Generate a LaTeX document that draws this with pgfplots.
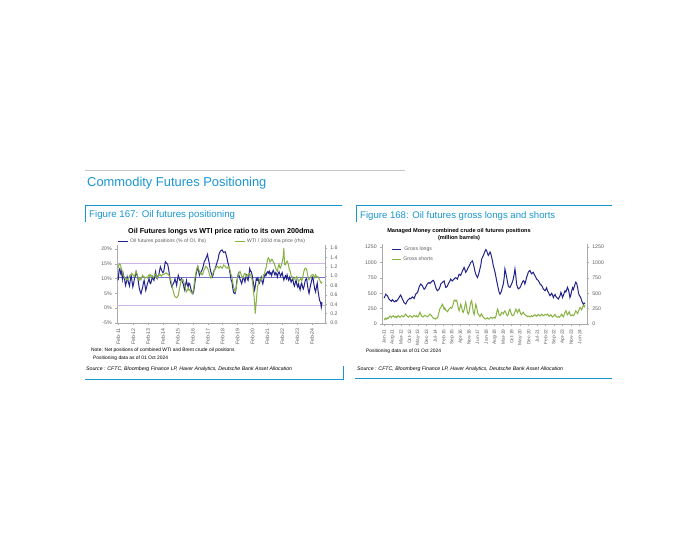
\documentclass[border=0pt]{standalone}
\usepackage{pgfplots}
\pgfplotsset{compat=1.18}
\usepackage{fontspec}
\setmainfont{Liberation Sans}
\definecolor{dbblue}{RGB}{25,150,210}
\definecolor{navy}{RGB}{35,35,140}
\definecolor{oilgreen}{RGB}{135,178,65}
\definecolor{lpurp}{RGB}{205,180,235}
\definecolor{mpurp}{RGB}{115,115,210}
\definecolor{tickgray}{RGB}{95,95,95}
\definecolor{axgray}{RGB}{170,170,170}
\newcommand{\fs}[1]{\fontsize{#1}{#1}\selectfont}
\begin{document}
\begin{tikzpicture}
\useasboundingbox (0pt,0pt) rectangle (700pt,550pt);
\fill[white] (0pt,0pt) rectangle (700pt,550pt);
% page furniture
\draw[gray!45, line width=0.8pt] (85pt,380pt) -- (405pt,380pt);
\node[anchor=west, text=dbblue, inner sep=0pt, font=\fs{12.9}] at (87pt,367pt) {Commodity Futures Positioning};
\draw[dbblue, line width=0.7pt] (85pt,328pt) -- (85pt,345pt) -- (342pt,345pt);
\node[anchor=west, text=dbblue, inner sep=0pt, font=\fs{9.7}] at (89pt,335pt) {Figure 167: Oil futures positioning};
\draw[dbblue, line width=0.7pt] (356pt,328pt) -- (356pt,345pt) -- (612pt,345pt);
\node[anchor=west, text=dbblue, inner sep=0pt, font=\fs{9.6}] at (360pt,334pt) {Figure 168: Oil futures gross longs and shorts};
% left chart texts
\node[inner sep=0pt, font=\bfseries\fs{7.2}] at (221pt,318pt) {Oil Futures longs vs WTI price ratio to its own 200dma};
\node[anchor=west, inner sep=0pt, font=\fs{4.9}] at (91pt,200pt) {Note: Net positions of combined WTI and Brent crude oil positions};
\node[anchor=west, inner sep=0pt, font=\fs{4.9}] at (93pt,192pt) {Positioning data as of 01 Oct 2024};
\node[anchor=west, inner sep=0pt, font=\itshape\fs{5.2}] at (86pt,181pt) {Source : CFTC, Bloomberg Finance LP, Haver Analytics, Deutsche Bank Asset Allocation};
\draw[dbblue, line width=0.7pt] (85pt,171pt) -- (343pt,171pt) -- (343pt,184pt);
% right chart texts
\node[inner sep=0pt, font=\bfseries\fs{5.6}] at (459pt,319pt) {Managed Money combined crude oil futures positions};
\node[inner sep=0pt, font=\bfseries\fs{5.6}] at (459pt,312pt) {(million barrels)};
\node[anchor=west, inner sep=0pt, font=\fs{4.9}] at (366pt,199pt) {Positioning data as of 01 Oct 2024};
\node[anchor=west, inner sep=0pt, font=\itshape\fs{5.2}] at (357pt,181pt) {Source : CFTC, Bloomberg Finance LP, Haver Analytics, Deutsche Bank Asset Allocation};
\draw[dbblue, line width=0.7pt] (355pt,172pt) -- (612pt,172pt);

\pgfplotsset{
  dbstyle/.style={
    scale only axis,
    tick align=outside,
    major tick length=1.8pt,
    every tick/.style={axgray, line width=0.4pt},
    axis line style={axgray, line width=0.5pt},
    tick label style={text=tickgray},
    /pgf/number format/assume math mode=true,
    /pgf/number format/1000 sep={},
    clip=false,
  }
}
% ---------- LEFT CHART, lhs ----------
\begin{axis}[dbstyle,
  at={(117pt,227pt)}, anchor=south west, width=208pt, height=78pt,
  xmin=2011.0, xmax=2024.95, ymin=-5, ymax=21.35,
  axis x line*=bottom, axis y line*=left,
  ytick={-5,0,5,10,15,20},
  yticklabels={-5\%,0\%,5\%,10\%,15\%,20\%},
  yticklabel style={font=\fs{5.2}},
  xtick={2011.083,2012.083,2013.083,2014.083,2015.083,2016.083,2017.083,2018.083,2019.083,2020.083,2021.083,2022.083,2023.083,2024.083},
  xticklabels={Feb-11,Feb-12,Feb-13,Feb-14,Feb-15,Feb-16,Feb-17,Feb-18,Feb-19,Feb-20,Feb-21,Feb-22,Feb-23,Feb-24},
  xticklabel style={font=\fs{5.2}, rotate=90, anchor=east},
  legend columns=2,
  legend style={at={(0.0,1.0)}, anchor=south west, yshift=-1pt, xshift=0pt, draw=none, fill=none, font=\fs{5.1}, text=tickgray,
    /tikz/every even column/.append style={column sep=26pt}, inner sep=0pt},
  legend image code/.code={\draw[#1, line width=1pt] (0pt,0pt) -- (10pt,0pt);},
]
\addplot[lpurp, line width=0.6pt, forget plot] coordinates {(2011.0,15.0) (2024.95,15.0)};
\addplot[mpurp, line width=0.6pt, forget plot] coordinates {(2011.0,10.5) (2024.95,10.5)};
\addplot[lpurp, line width=0.6pt, forget plot] coordinates {(2011.0,1.0) (2024.95,1.0)};
\addplot[navy, line width=1pt] coordinates {
(2011.08,9.4) (2011.14,13.0) (2011.19,13.4) (2011.25,11.7) (2011.30,12.5) (2011.36,9.8) (2011.41,11.7) (2011.47,10.2) (2011.52,9.4) (2011.57,7.7)
(2011.63,8.8) (2011.68,10.6) (2011.73,9.5) (2011.79,8.3) (2011.84,7.5) (2011.90,9.8) (2011.95,11.1) (2012.01,9.0) (2012.06,7.2) (2012.12,8.5)
(2012.17,10.0) (2012.23,11.0) (2012.28,12.3) (2012.34,11.2) (2012.39,10.5) (2012.45,8.2) (2012.50,6.6) (2012.56,5.5) (2012.61,4.9) (2012.67,6.2)
(2012.72,7.0) (2012.77,8.5) (2012.82,9.4) (2012.88,7.6) (2012.93,6.0) (2012.99,7.2) (2013.04,8.3) (2013.10,9.2) (2013.15,10.0) (2013.21,8.5)
(2013.26,8.3) (2013.32,9.5) (2013.37,10.6) (2013.43,9.8) (2013.48,9.4) (2013.54,11.0) (2013.59,12.3) (2013.64,10.5) (2013.69,10.0) (2013.75,11.0)
(2013.80,11.2) (2013.86,12.8) (2013.91,14.0) (2013.97,13.2) (2014.02,12.5) (2014.08,12.0) (2014.13,12.3) (2014.19,14.0) (2014.24,15.7) (2014.30,15.3)
(2014.35,15.1) (2014.40,14.8) (2014.46,13.2) (2014.51,11.5) (2014.57,9.4) (2014.62,8.2) (2014.68,7.2) (2014.73,7.8) (2014.78,8.3) (2014.84,9.0)
(2014.89,10.0) (2014.95,8.8) (2015.00,7.7) (2015.05,9.5) (2015.11,11.1) (2015.16,10.2) (2015.22,9.4) (2015.28,9.6) (2015.33,10.0) (2015.38,8.8)
(2015.44,8.3) (2015.49,7.0) (2015.55,6.0) (2015.60,8.0) (2015.66,9.4) (2015.71,8.0) (2015.77,7.2) (2015.82,8.5) (2015.87,8.3) (2015.93,7.0)
(2015.98,6.0) (2016.04,5.5) (2016.09,4.9) (2016.15,5.8) (2016.20,7.7) (2016.26,10.0) (2016.31,11.7) (2016.36,12.8) (2016.42,14.0) (2016.47,12.5)
(2016.53,11.1) (2016.58,11.7) (2016.64,12.3) (2016.69,12.8) (2016.74,13.4) (2016.80,14.5) (2016.85,15.7) (2016.91,16.2) (2016.96,16.8) (2017.02,17.5)
(2017.07,18.2) (2017.13,16.5) (2017.18,15.5) (2017.24,13.5) (2017.29,12.3) (2017.35,11.5) (2017.40,10.6) (2017.46,11.5) (2017.51,12.8) (2017.56,13.0)
(2017.62,14.0) (2017.67,14.8) (2017.72,15.7) (2017.78,16.5) (2017.83,18.0) (2017.89,18.8) (2017.94,19.3) (2017.99,19.5) (2018.05,19.7) (2018.10,19.2)
(2018.16,18.8) (2018.21,19.0) (2018.27,19.0) (2018.32,18.0) (2018.38,16.8) (2018.43,15.5) (2018.49,14.5) (2018.54,13.0) (2018.60,11.2) (2018.65,9.5)
(2018.71,8.9) (2018.76,7.0) (2018.81,5.5) (2018.87,5.0) (2018.92,4.9) (2018.98,6.5) (2019.03,8.9) (2019.09,10.5) (2019.14,11.7) (2019.20,10.8)
(2019.25,9.8) (2019.31,9.0) (2019.36,8.3) (2019.42,9.5) (2019.47,10.6) (2019.53,9.8) (2019.58,8.9) (2019.63,10.2) (2019.69,11.1) (2019.74,10.0)
(2019.79,9.4) (2019.85,11.0) (2019.90,13.4) (2019.96,12.5) (2020.01,12.3) (2020.07,11.0) (2020.12,9.4) (2020.18,7.5) (2020.23,6.2) (2020.29,8.0)
(2020.34,10.0) (2020.40,9.5) (2020.45,10.2) (2020.50,9.0) (2020.56,8.5) (2020.61,9.6) (2020.67,10.5) (2020.72,9.2) (2020.78,8.2) (2020.83,9.5)
(2020.88,10.8) (2020.94,11.5) (2020.99,11.0) (2021.05,12.0) (2021.10,12.3) (2021.15,11.8) (2021.21,12.5) (2021.26,11.5) (2021.32,12.0) (2021.37,11.0)
(2021.43,12.2) (2021.48,12.8) (2021.54,12.0) (2021.59,11.2) (2021.65,12.0) (2021.70,11.5) (2021.76,10.5) (2021.81,11.8) (2021.87,12.3) (2021.92,11.5)
(2021.97,10.8) (2022.03,11.5) (2022.08,12.0) (2022.14,10.5) (2022.19,9.5) (2022.25,10.5) (2022.30,11.0) (2022.36,10.0) (2022.41,11.2) (2022.47,10.0)
(2022.52,9.4) (2022.58,10.5) (2022.63,9.8) (2022.68,8.8) (2022.74,9.5) (2022.79,10.2) (2022.84,8.3) (2022.90,7.5) (2022.95,8.5) (2023.01,9.5)
(2023.06,8.0) (2023.12,7.2) (2023.17,8.3) (2023.23,7.0) (2023.28,6.2) (2023.34,8.0) (2023.39,8.5) (2023.45,7.0) (2023.50,6.5) (2023.55,7.5)
(2023.61,9.0) (2023.66,9.8) (2023.72,10.0) (2023.77,8.0) (2023.83,6.0) (2023.88,5.0) (2023.93,6.5) (2023.99,8.0) (2024.04,9.0) (2024.10,10.5)
(2024.15,10.0) (2024.21,8.0) (2024.26,6.5) (2024.32,5.5) (2024.37,7.0) (2024.43,8.5) (2024.48,6.0) (2024.54,4.0) (2024.59,2.6) (2024.65,2.0)
(2024.70,0.3) (2024.75,2.0)
};
\addlegendentry{Oil futures positions (\% of OI, lhs)}
\addlegendimage{oilgreen}
\addlegendentry{WTI / 200d ma price (rhs)}
\end{axis}
% ---------- LEFT CHART, rhs ----------
\begin{axis}[dbstyle,
  at={(117pt,227pt)}, anchor=south west, width=208pt, height=78pt,
  xmin=2011.0, xmax=2024.95, ymin=0, ymax=1.664,
  axis x line=none, axis y line*=right,
  ytick={0,0.2,...,1.6},
  yticklabel style={font=\fs{5.2}, /pgf/number format/.cd, fixed, fixed zerofill, precision=1},
]
\addplot[oilgreen, line width=1pt] coordinates {
(2011.08,1.17) (2011.14,1.26) (2011.19,1.26) (2011.25,1.22) (2011.30,1.15) (2011.36,1.10) (2011.41,1.02) (2011.47,0.99) (2011.52,0.96) (2011.57,0.95)
(2011.63,0.92) (2011.68,0.94) (2011.73,0.92) (2011.79,0.97) (2011.84,1.00) (2011.90,1.03) (2011.95,1.03) (2012.01,1.05) (2012.06,1.03) (2012.12,1.00)
(2012.17,0.99) (2012.23,1.06) (2012.28,1.10) (2012.34,1.05) (2012.39,0.99) (2012.45,0.95) (2012.50,0.92) (2012.56,0.96) (2012.61,0.92) (2012.67,0.98)
(2012.72,1.02) (2012.77,0.99) (2012.82,0.99) (2012.88,0.97) (2012.93,0.96) (2012.99,0.98) (2013.04,0.96) (2013.10,1.00) (2013.15,1.03) (2013.21,0.99)
(2013.26,1.03) (2013.32,1.00) (2013.37,0.99) (2013.43,0.97) (2013.48,0.99) (2013.54,1.05) (2013.59,1.03) (2013.64,0.98) (2013.69,0.96) (2013.75,0.99)
(2013.80,1.03) (2013.86,1.02) (2013.91,1.03) (2013.97,1.00) (2014.02,1.02) (2014.08,1.04) (2014.13,1.04) (2014.19,1.05) (2014.24,1.06) (2014.30,1.07)
(2014.35,1.06) (2014.40,1.04) (2014.46,1.03) (2014.51,1.01) (2014.57,0.96) (2014.62,0.90) (2014.68,0.81) (2014.73,0.74) (2014.78,0.67) (2014.84,0.60)
(2014.89,0.56) (2014.95,0.55) (2015.00,0.54) (2015.05,0.56) (2015.11,0.59) (2015.16,0.68) (2015.22,0.78) (2015.28,0.88) (2015.33,0.92) (2015.38,0.93)
(2015.44,0.92) (2015.49,0.86) (2015.55,0.80) (2015.60,0.72) (2015.66,0.67) (2015.71,0.70) (2015.77,0.74) (2015.82,0.70) (2015.87,0.71) (2015.93,0.68)
(2015.98,0.64) (2016.04,0.63) (2016.09,0.66) (2016.15,0.75) (2016.20,0.92) (2016.26,1.02) (2016.31,1.10) (2016.36,1.17) (2016.42,1.21) (2016.47,1.15)
(2016.53,1.10) (2016.58,1.06) (2016.64,1.07) (2016.69,1.03) (2016.74,1.03) (2016.80,1.10) (2016.85,1.14) (2016.91,1.18) (2016.96,1.21) (2017.02,1.19)
(2017.07,1.17) (2017.13,1.12) (2017.18,1.06) (2017.24,1.00) (2017.29,0.96) (2017.35,0.98) (2017.40,1.03) (2017.46,1.08) (2017.51,1.10) (2017.56,1.14)
(2017.62,1.17) (2017.67,1.19) (2017.72,1.21) (2017.78,1.20) (2017.83,1.17) (2017.89,1.19) (2017.94,1.21) (2017.99,1.19) (2018.05,1.17) (2018.10,1.20)
(2018.16,1.24) (2018.21,1.22) (2018.27,1.21) (2018.32,1.18) (2018.38,1.17) (2018.43,1.19) (2018.49,1.21) (2018.54,1.18) (2018.60,1.10) (2018.65,1.03)
(2018.71,0.99) (2018.76,0.88) (2018.81,0.78) (2018.87,0.72) (2018.92,0.67) (2018.98,0.73) (2019.03,0.82) (2019.09,0.97) (2019.14,1.03) (2019.20,1.08)
(2019.25,1.10) (2019.31,1.05) (2019.36,1.00) (2019.42,0.98) (2019.47,0.97) (2019.53,1.05) (2019.58,1.06) (2019.63,1.03) (2019.69,0.99) (2019.74,1.02)
(2019.79,1.03) (2019.85,1.06) (2019.90,1.06) (2019.96,1.02) (2020.01,0.99) (2020.07,0.90) (2020.12,0.78) (2020.18,0.60) (2020.23,0.42) (2020.27,0.20)
(2020.31,0.35) (2020.34,0.45) (2020.40,0.70) (2020.45,0.80) (2020.50,0.85) (2020.56,0.92) (2020.61,0.95) (2020.67,0.92) (2020.72,0.96) (2020.78,0.97)
(2020.83,1.03) (2020.88,1.03) (2020.94,1.12) (2020.99,1.17) (2021.05,1.27) (2021.10,1.35) (2021.15,1.39) (2021.21,1.36) (2021.26,1.30) (2021.32,1.32)
(2021.37,1.36) (2021.43,1.35) (2021.48,1.30) (2021.54,1.28) (2021.59,1.22) (2021.65,1.17) (2021.70,1.12) (2021.76,1.10) (2021.81,1.20) (2021.87,1.25)
(2021.92,1.18) (2021.97,1.17) (2022.03,1.25) (2022.08,1.30) (2022.14,1.40) (2022.19,1.60) (2022.21,1.45) (2022.24,1.25) (2022.30,1.24) (2022.36,1.30)
(2022.41,1.32) (2022.47,1.28) (2022.52,1.20) (2022.58,1.12) (2022.63,1.10) (2022.68,1.00) (2022.74,0.98) (2022.79,0.95) (2022.84,0.92) (2022.90,0.94)
(2022.95,0.96) (2023.01,0.98) (2023.06,0.99) (2023.12,0.94) (2023.17,0.88) (2023.23,0.92) (2023.28,0.92) (2023.34,0.96) (2023.39,0.90) (2023.45,0.95)
(2023.50,1.06) (2023.55,1.12) (2023.61,1.17) (2023.66,1.17) (2023.72,1.14) (2023.77,1.05) (2023.83,0.96) (2023.88,0.92) (2023.93,0.95) (2023.99,0.99)
(2024.04,1.02) (2024.10,1.03) (2024.15,1.03) (2024.21,0.99) (2024.26,0.96) (2024.32,1.03) (2024.37,1.00) (2024.43,0.98) (2024.48,0.99) (2024.54,0.95)
(2024.59,0.92) (2024.65,0.88) (2024.70,0.85) (2024.75,0.88)
};
\end{axis}
% ---------- RIGHT CHART ----------
\begin{axis}[dbstyle,
  at={(382pt,226pt)}, anchor=south west, width=205pt, height=80pt,
  xmin=2010.86, xmax=2024.92, ymin=0, ymax=1300,
  axis x line*=bottom, axis y line*=left,
  ytick={0,250,500,750,1000,1250},
  yticklabel style={font=\fs{5.2}},
  xtick={2011.0,2011.583,2012.167,2012.75,2013.333,2013.917,2014.5,2015.083,2015.667,2016.25,2016.833,2017.417,2018.0,2018.583,2019.167,2019.75,2020.333,2020.917,2021.5,2022.083,2022.667,2023.25,2023.833,2024.417},
  xticklabels={Jan-11,Aug-11,Mar-12,Oct-12,May-13,Dec-13,Jul-14,Feb-15,Sep-15,Apr-16,Nov-16,Jun-17,Jan-18,Aug-18,Mar-19,Oct-19,May-20,Dec-20,Jul-21,Feb-22,Sep-22,Apr-23,Nov-23,Jun-24},
  xticklabel style={font=\fs{4.8}, rotate=90, anchor=east},
  legend style={at={(0.045,0.995)}, anchor=north west, draw=none, fill=none, font=\fs{5.2}, text=tickgray, row sep=1pt, inner sep=0pt},
  legend image code/.code={\draw[#1, line width=1pt] (0pt,0pt) -- (9pt,0pt);},
]
\addplot[navy, line width=1pt] coordinates {
(2011.00,420) (2011.06,450) (2011.11,485) (2011.17,470) (2011.23,460) (2011.29,430) (2011.34,405) (2011.40,390) (2011.46,380) (2011.51,370)
(2011.57,395) (2011.63,380) (2011.69,365) (2011.74,360) (2011.80,380) (2011.86,370) (2011.91,390) (2011.97,405) (2012.03,430) (2012.09,455)
(2012.14,470) (2012.20,440) (2012.26,405) (2012.31,380) (2012.37,350) (2012.43,335) (2012.49,325) (2012.54,350) (2012.60,380) (2012.66,395)
(2012.72,405) (2012.77,420) (2012.83,410) (2012.89,425) (2012.95,440) (2013.00,430) (2013.06,415) (2013.12,450) (2013.17,485) (2013.23,500)
(2013.29,510) (2013.35,550) (2013.40,595) (2013.46,630) (2013.52,650) (2013.57,635) (2013.63,620) (2013.69,590) (2013.75,565) (2013.80,575)
(2013.86,600) (2013.92,630) (2013.97,650) (2014.03,665) (2014.09,675) (2014.15,660) (2014.20,670) (2014.26,690) (2014.32,700) (2014.37,710)
(2014.43,690) (2014.49,640) (2014.55,595) (2014.60,560) (2014.66,540) (2014.72,555) (2014.78,570) (2014.83,600) (2014.89,650) (2014.95,665)
(2015.00,675) (2015.06,690) (2015.12,700) (2015.17,650) (2015.23,595) (2015.29,600) (2015.35,620) (2015.40,650) (2015.46,675) (2015.52,700)
(2015.57,730) (2015.63,710) (2015.69,700) (2015.75,720) (2015.80,730) (2015.86,745) (2015.92,755) (2015.98,740) (2016.03,730) (2016.09,770)
(2016.15,810) (2016.20,800) (2016.26,790) (2016.32,830) (2016.38,865) (2016.43,890) (2016.49,920) (2016.55,880) (2016.60,840) (2016.66,860)
(2016.72,890) (2016.78,920) (2016.84,945) (2016.89,970) (2016.95,1000) (2017.01,1015) (2017.06,1025) (2017.12,980) (2017.18,920) (2017.23,860)
(2017.29,810) (2017.35,780) (2017.41,755) (2017.46,790) (2017.52,840) (2017.58,900) (2017.64,960) (2017.69,1050) (2017.75,1085) (2017.81,1110)
(2017.87,1150) (2017.92,1180) (2017.98,1210) (2018.04,1190) (2018.09,1150) (2018.15,1115) (2018.21,1140) (2018.27,1170) (2018.32,1140) (2018.38,1085)
(2018.44,1020) (2018.49,950) (2018.55,900) (2018.61,840) (2018.67,770) (2018.72,705) (2018.78,640) (2018.84,570) (2018.89,520) (2018.95,485)
(2019.01,510) (2019.06,540) (2019.12,600) (2019.18,650) (2019.24,750) (2019.29,895) (2019.35,830) (2019.41,760) (2019.46,690) (2019.52,620)
(2019.58,600) (2019.64,595) (2019.69,620) (2019.75,650) (2019.81,690) (2019.86,730) (2019.92,800) (2019.98,895) (2020.04,780) (2020.09,650)
(2020.15,600) (2020.21,570) (2020.26,580) (2020.32,590) (2020.38,620) (2020.43,650) (2020.49,680) (2020.55,705) (2020.61,690) (2020.66,650)
(2020.72,700) (2020.78,760) (2020.84,800) (2020.89,840) (2020.95,860) (2021.01,870) (2021.06,840) (2021.12,815) (2021.18,830) (2021.24,840)
(2021.29,810) (2021.35,785) (2021.41,760) (2021.46,730) (2021.52,720) (2021.58,705) (2021.64,680) (2021.69,650) (2021.75,640) (2021.81,625)
(2021.87,600) (2021.92,570) (2021.98,555) (2022.04,540) (2022.09,560) (2022.15,590) (2022.21,540) (2022.27,515) (2022.32,490) (2022.38,460)
(2022.44,480) (2022.50,500) (2022.55,470) (2022.61,430) (2022.67,460) (2022.73,480) (2022.78,450) (2022.84,430) (2022.90,420) (2022.95,405)
(2023.01,430) (2023.07,460) (2023.13,515) (2023.18,480) (2023.24,430) (2023.30,470) (2023.35,500) (2023.41,540) (2023.47,520) (2023.53,560)
(2023.58,595) (2023.64,560) (2023.70,500) (2023.75,430) (2023.81,470) (2023.87,540) (2023.93,590) (2023.98,560) (2024.04,600) (2024.10,650)
(2024.15,680) (2024.21,660) (2024.27,600) (2024.33,515) (2024.38,470) (2024.44,450) (2024.50,420) (2024.55,380) (2024.61,350) (2024.67,320)
(2024.73,340) (2024.78,330)
};
\addlegendentry{Gross longs}
\addplot[oilgreen, line width=1pt] coordinates {
(2011.00,85) (2011.06,70) (2011.11,95) (2011.17,80) (2011.23,100) (2011.29,90) (2011.34,110) (2011.40,130) (2011.46,120) (2011.51,105)
(2011.57,125) (2011.63,135) (2011.69,115) (2011.74,110) (2011.80,125) (2011.86,105) (2011.91,120) (2011.97,135) (2012.03,125) (2012.09,110)
(2012.14,120) (2012.20,135) (2012.26,130) (2012.31,115) (2012.37,125) (2012.43,145) (2012.49,160) (2012.54,140) (2012.60,125) (2012.66,110)
(2012.72,120) (2012.77,135) (2012.83,130) (2012.89,115) (2012.95,110) (2013.00,125) (2013.06,140) (2013.12,130) (2013.17,120) (2013.23,135)
(2013.29,115) (2013.35,125) (2013.40,150) (2013.46,190) (2013.52,160) (2013.57,130) (2013.63,120) (2013.69,115) (2013.75,130) (2013.80,140)
(2013.86,135) (2013.92,125) (2013.97,115) (2014.03,130) (2014.09,145) (2014.15,160) (2014.20,150) (2014.26,135) (2014.32,110) (2014.37,100)
(2014.43,85) (2014.49,90) (2014.55,80) (2014.60,95) (2014.66,100) (2014.72,140) (2014.78,200) (2014.83,250) (2014.89,270) (2014.95,300)
(2015.00,320) (2015.06,290) (2015.12,240) (2015.17,260) (2015.23,225) (2015.29,215) (2015.35,200) (2015.40,220) (2015.46,245) (2015.52,260)
(2015.57,270) (2015.63,255) (2015.69,280) (2015.75,330) (2015.80,380) (2015.86,390) (2015.92,370) (2015.98,385) (2016.03,340) (2016.09,260)
(2016.15,215) (2016.20,260) (2016.26,320) (2016.32,280) (2016.38,200) (2016.43,190) (2016.49,230) (2016.55,300) (2016.60,350) (2016.66,280)
(2016.72,190) (2016.78,160) (2016.84,200) (2016.89,280) (2016.95,350) (2017.01,380) (2017.06,300) (2017.12,190) (2017.18,155) (2017.23,230)
(2017.29,320) (2017.35,280) (2017.41,190) (2017.46,160) (2017.52,140) (2017.58,120) (2017.64,150) (2017.69,165) (2017.75,130) (2017.81,110)
(2017.87,95) (2017.92,85) (2017.98,80) (2018.04,90) (2018.09,100) (2018.15,85) (2018.21,80) (2018.27,95) (2018.32,110) (2018.38,100)
(2018.44,90) (2018.49,105) (2018.55,110) (2018.61,95) (2018.67,120) (2018.72,180) (2018.78,240) (2018.84,210) (2018.89,150) (2018.95,135)
(2019.01,155) (2019.06,190) (2019.12,180) (2019.18,165) (2019.24,200) (2019.29,215) (2019.35,185) (2019.41,150) (2019.46,135) (2019.52,160)
(2019.58,220) (2019.64,240) (2019.69,190) (2019.75,150) (2019.81,135) (2019.86,140) (2019.92,160) (2019.98,200) (2020.04,240) (2020.09,220)
(2020.15,185) (2020.21,215) (2020.26,240) (2020.32,200) (2020.38,165) (2020.43,150) (2020.49,175) (2020.55,190) (2020.61,165) (2020.66,150)
(2020.72,140) (2020.78,135) (2020.84,120) (2020.89,130) (2020.95,125) (2021.01,115) (2021.06,125) (2021.12,135) (2021.18,120) (2021.24,130)
(2021.29,140) (2021.35,150) (2021.41,135) (2021.46,125) (2021.52,140) (2021.58,155) (2021.64,145) (2021.69,130) (2021.75,140) (2021.81,160)
(2021.87,150) (2021.92,135) (2021.98,140) (2022.04,155) (2022.09,150) (2022.15,145) (2022.21,160) (2022.27,140) (2022.32,125) (2022.38,135)
(2022.44,150) (2022.50,130) (2022.55,115) (2022.61,125) (2022.67,140) (2022.73,155) (2022.78,130) (2022.84,115) (2022.90,110) (2022.95,120)
(2023.01,110) (2023.07,125) (2023.13,140) (2023.18,160) (2023.24,135) (2023.30,115) (2023.35,150) (2023.41,190) (2023.47,215) (2023.53,180)
(2023.58,150) (2023.64,170) (2023.70,200) (2023.75,160) (2023.81,135) (2023.87,145) (2023.93,150) (2023.98,135) (2024.04,150) (2024.10,185)
(2024.15,215) (2024.21,195) (2024.27,170) (2024.33,200) (2024.38,240) (2024.44,270) (2024.50,250) (2024.55,230) (2024.61,270) (2024.67,300)
(2024.73,280) (2024.78,310)
};
\addlegendentry{Gross shorts}
\end{axis}
\begin{axis}[dbstyle,
  at={(382pt,226pt)}, anchor=south west, width=205pt, height=80pt,
  xmin=2010.86, xmax=2024.92, ymin=0, ymax=1300,
  axis x line=none, axis y line*=right,
  ytick={0,250,500,750,1000,1250},
  yticklabel style={font=\fs{5.2}},
]
\addplot[draw=none, forget plot] coordinates {(2011,0) (2024,0)};
\end{axis}
\end{tikzpicture}
\end{document}
